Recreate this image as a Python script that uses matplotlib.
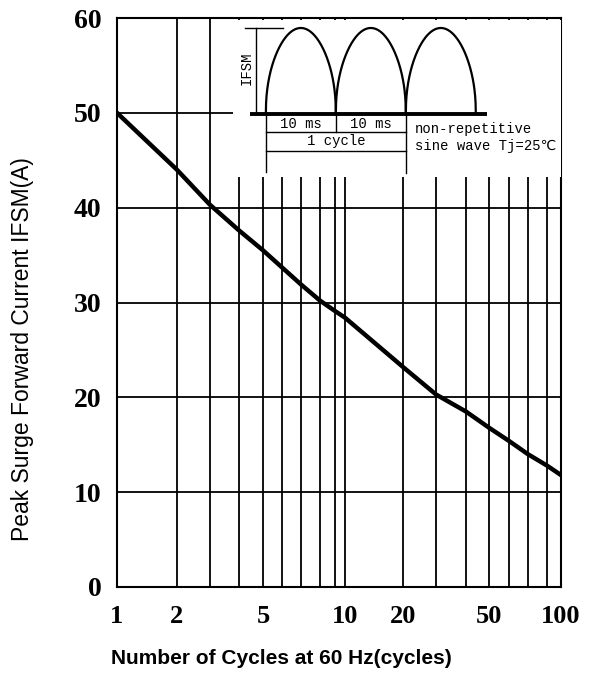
import matplotlib.pyplot as plt
import numpy as np

# peak surge current vs number of cycles
cycles = [1, 2, 3, 4, 5, 6, 7, 8, 9, 10, 20, 30, 40, 50, 60, 70, 80, 100]
ifsm = [50, 44.0, 40.3, 37.6, 35.5, 33.7, 31.9, 30.2, 29.1, 28.4,
        23.2, 20.3, 18.5, 16.8, 15.4, 14.0, 12.8, 11.8]

x_major = [1, 2, 5, 10, 20, 50, 100]
x_labels = ['1', '2', '5', '10', '20', '50', '100']
x_minor = [3, 4, 6, 7, 8, 9, 30, 40, 60, 70, 80]
y_ticks = [0, 10, 20, 30, 40, 50, 60]

# the datasheet's hand-drawn "log" axis: where each grid value sits (fraction of width)
scale_vals = [1, 2, 3, 4, 5, 6, 7, 8, 9, 10, 20, 30, 40, 50, 60, 70, 80, 100]
scale_frac = [0, 0.135, 0.2095, 0.2748, 0.3288, 0.3716, 0.4144, 0.4572, 0.491,
              0.5135, 0.6441, 0.7185, 0.786, 0.8378, 0.8829, 0.9257, 0.9685, 1]
log_vals = np.log10(scale_vals)


def fwd(x):
    return np.interp(np.log10(np.clip(x, 1e-9, None)), log_vals, scale_frac)


def inv(u):
    return 10 ** np.interp(u, scale_frac, log_vals)


# inset waveform: three 10 ms half-sine pulses
pulse_starts = [0, 10, 20]
pulse_width = 10

W, H = 594, 675
fig = plt.figure(figsize=(W / 100, H / 100), dpi=100)
ax = fig.add_axes([117 / W, 88 / H, 444 / W, 569 / H])

ax.set_xscale('function', functions=(fwd, inv))
ax.set_xlim(1, 100)
ax.set_ylim(0, 60)
ax.set_xticks(x_major)
ax.set_xticklabels(x_labels)
ax.set_xticks(x_minor, minor=True)
ax.xaxis.set_minor_formatter(plt.NullFormatter())
ax.set_yticks(y_ticks)
ax.tick_params(which='both', length=0)
ax.tick_params(axis='x', pad=13, labelsize=19)
ax.tick_params(axis='y', pad=11, labelsize=20)
for lab in ax.get_xticklabels() + ax.get_yticklabels():
    lab.set_fontfamily('Liberation Serif')
    lab.set_fontweight('bold')

ax.grid(True, which='both', axis='x', color='black', lw=1.3)
ax.grid(True, which='major', axis='y', color='black', lw=1.3)
for s in ax.spines.values():
    s.set_linewidth(1.5)

ax.plot(cycles, ifsm, color='black', lw=3.2)

# inset diagram (white box hides the grid behind it)
ins = ax.inset_axes([0.261, 0.7206, 0.7385, 0.2759])
ins.set_xlim(-4.71, 42.14)
ins.set_ylim(-0.733, 1.093)
ins.set_xticks([])
ins.set_yticks([])
for s in ins.spines.values():
    s.set_visible(False)

t = np.linspace(0, pulse_width, 300)
for s0 in pulse_starts:
    ins.plot(s0 + t, np.sin(np.pi * t / pulse_width) ** 0.45, color='black', lw=1.6)
ins.plot([-2.3, 31.6], [0, 0], color='black', lw=2.8, solid_capstyle='butt')
ins.plot([-1.43, -1.43], [0, 1], color='black', lw=1)
ins.plot([-3.0, 2.4], [1, 1], color='black', lw=1)
ins.plot([0, 0], [0, -0.674], color='black', lw=1)
ins.plot([20, 20], [0, -0.686], color='black', lw=1)
ins.plot([10, 10], [0, -0.21], color='black', lw=1)
ins.plot([0, 20], [-0.21, -0.21], color='black', lw=1)
ins.plot([0, 20], [-0.43, -0.43], color='black', lw=1)

mono = ['Liberation Mono', 'DejaVu Sans Mono', 'DejaVu Sans']
ins.text(-2.8, 0.53, 'IFSM', rotation=90, ha='center', va='center', fontsize=10, family=mono)
ins.text(5, -0.115, '10 ms', ha='center', va='center', fontsize=10, family=mono)
ins.text(15, -0.115, '10 ms', ha='center', va='center', fontsize=10, family=mono)
ins.text(10, -0.32, '1 cycle', ha='center', va='center', fontsize=10, family=mono)
ins.text(21.3, -0.17, 'non-repetitive', ha='left', va='center', fontsize=10, family=mono)
ins.text(21.3, -0.37, 'sine wave Tj=25\u2103', ha='left', va='center', fontsize=10, family=mono)

fig.text(23 / W, 1 - 349 / H, 'Peak Surge Forward Current IFSM(A)', rotation=90,
         ha='center', va='center', fontsize=16.5, family='Liberation Sans')
fig.text(281 / W, 1 - 659 / H, 'Number of Cycles at 60 Hz(cycles)',
         ha='center', va='center', fontsize=15, fontweight='bold', family='Liberation Sans')

fig.savefig('out.png', dpi=100)
